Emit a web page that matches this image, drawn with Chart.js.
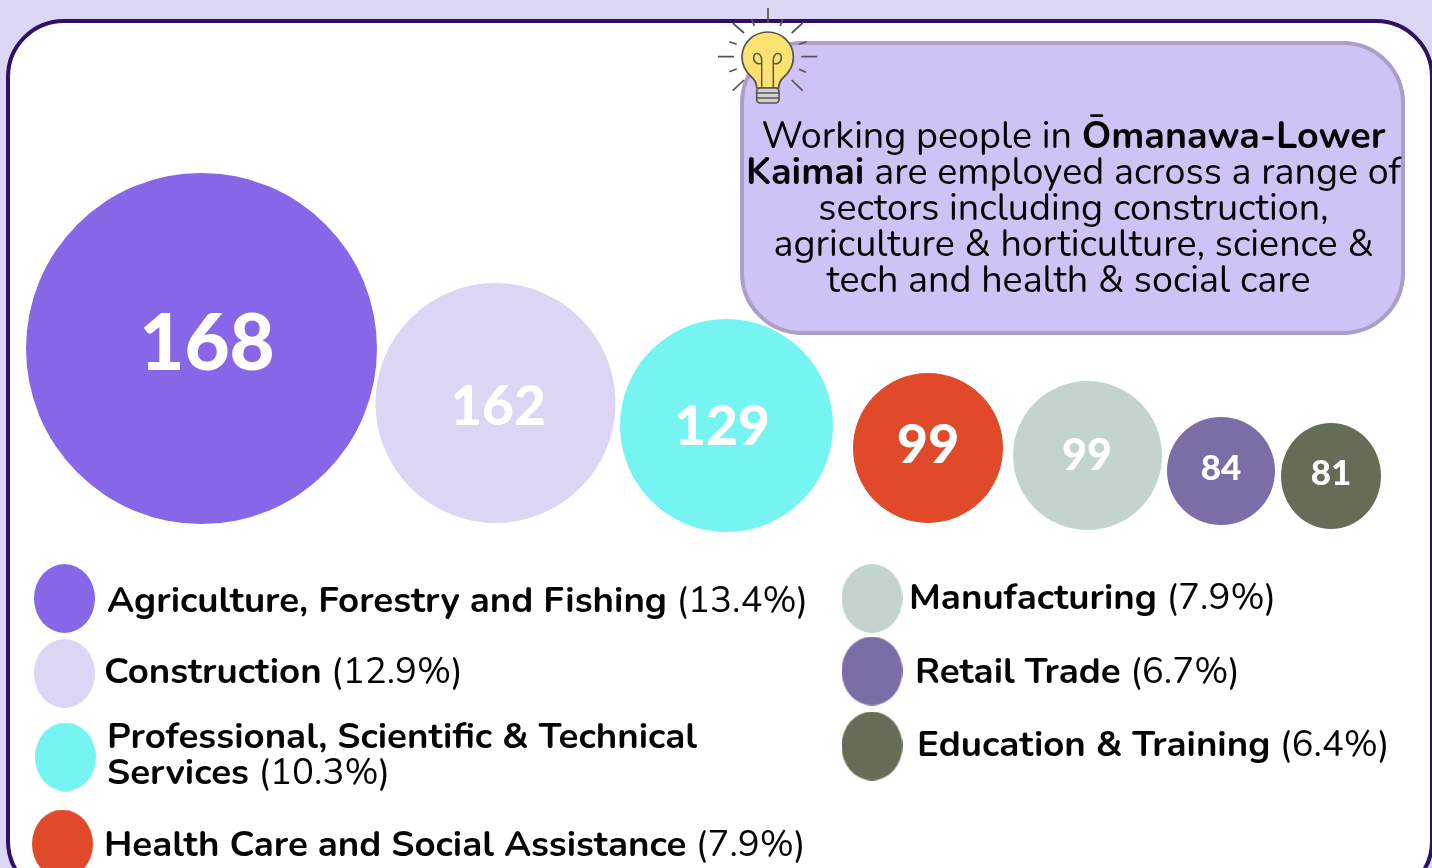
<!DOCTYPE html>
<html>
<head>
<meta charset="utf-8">
<script src="https://cdn.jsdelivr.net/npm/chart.js@4"></script>
<style>
  html, body { margin: 0; padding: 0; width: 1432px; height: 868px; overflow: hidden; background: #dcd6f5; }
  body { position: relative; font-family: 'Nunito', 'Open Sans', sans-serif; color: #050505; }
  .card { position: absolute; left: 6px; top: 19px; width: 1428px; height: 880px; box-sizing: border-box; background: #fff; border: 4px solid #2e1065; border-radius: 58px; }
  .note { position: absolute; left: 740px; top: 41px; width: 665px; height: 294px; box-sizing: border-box; background: #cfc2f5; border: 4px solid #ab9ec9; border-radius: 62px; }
  .note-text { position: absolute; left: 740px; top: 118px; width: 667px; text-align: center; font-size: 37.7px; line-height: 36px; }
  .note-text span { position: relative; left: -5px; }
  canvas { position: absolute; left: 0; top: 0; }
  .leg { position: absolute; font-size: 36.7px; line-height: 36px; white-space: nowrap; }
  .bulb { position: absolute; left: 710px; top: 0; }
</style>
</head>
<body>
<div class="card"></div>
<canvas id="bubbles" width="1432" height="868"></canvas>
<div class="note"></div>
<div class="note-text">Working people in <b>Ōmanawa-Lower<br>Kaimai</b> are employed across a range of<br>sectors including construction,<br>agriculture &amp; horticulture, science &amp;<br><span>tech and health &amp; social care</span></div>
<svg class="bulb" width="120" height="115" viewBox="710 0 120 115">
  <path d="M768 8V23M751.7 19l2.600 7M782.700 19l-2.400 7M732.700 23L744 33M802.700 23L791.700 33M718 56.700h16M801.300 56.700h16M729.300 41.700l7.400 2.600M806.700 41.700l-7.700 2.600M729.300 71.700l7.400-2.700M806 72.300l-7-3M732.700 90.700L744 80M802.700 90.700L791.700 80" stroke="#555" stroke-width="1.700" fill="none"/>
  <path d="M767.700 32c-14.200 0-25.700 11.200-25.700 25 0 9 4.500 15.500 9.500 20 3.500 3 5.200 6 5.200 11h22c0-5 1.700-8 5.200-11 5-4.500 9.500-11 9.500-20 0-13.800-11.500-25-25.700-25z" fill="#fde272" stroke="#555" stroke-width="1.700"/>
  <path d="M761.700 88V60c0-4-2.400-6.500-4.500-6.500-4 0-5 6.500-1 9.500 2 1 4 1 5.500 0M773.300 88V60c0-4 2.400-6.500 4.500-6.500 4 0 5 6.500 1 9.500-2 1-4 1-5.500 0" fill="none" stroke="#555" stroke-width="1.500"/>
  <rect x="756.700" y="88" width="22.300" height="15" rx="3.500" fill="#d0d0d0" stroke="#555" stroke-width="1.700"/>
  <path d="M757 93h22M757 98h22" stroke="#555" stroke-width="1.500"/>
</svg>
<div id="legend"></div>
<script>
const sectors = ['Agriculture, Forestry and Fishing', 'Construction', 'Professional, Scientific & Technical Services', 'Health Care and Social Assistance', 'Manufacturing', 'Retail Trade', 'Education & Training']
const counts = [168, 162, 129, 99, 99, 84, 81]
const shares = ['13.4%', '12.9%', '10.3%', '7.9%', '7.9%', '6.7%', '6.4%']
const colours = ['#8866e8', '#dcd6f4', '#75f4f2', '#e04a2b', '#c3d4cf', '#7d6da6', '#656d57']

// layout of the hand placed bubbles, in axis units
const bubbleX = [201.5, 495.5, 726.5, 928, 1087.5, 1221, 1331]
const bubbleY = [348.5, 403, 425.5, 448, 455.5, 471, 476]
const bubbleRadiusX = [175.5, 120, 106.5, 75, 74.5, 54, 50]
const bubbleRadiusY = [175.5, 120, 106.5, 75, 74.5, 54, 53]
const keyX = [64.5, 64.5, 65.5, 62.5, 872, 872, 872]
const keyY = [598.5, 673.5, 757, 844, 598.5, 671, 746]

const labelX = [207, 498, 722, 928, 1087, 1221, 1331]
const labelY = [345, 407.5, 427, 446, 456.5, 469, 474]
const labelSize = [78, 55, 55, 54, 43, 35, 35]

// legend text spots: left edge, top of first line
const legendLeft = [107, 104, 107, 104, 909, 915, 917]
const legendTop = [582, 652.5, 718, 825.5, 579, 652.5, 725.5]
const legendBreak = { 2: 'Professional, Scientific & Technical|Services' }

// bubble charts only do circles, so anything oval goes in as a sprite
const ovalSprite = (rx, ry, colour) => {
  const c = document.createElement('canvas')
  c.width = Math.ceil(rx * 2)
  c.height = Math.ceil(ry * 2)
  const g = c.getContext('2d')
  g.fillStyle = colour
  g.beginPath()
  g.ellipse(c.width / 2, c.height / 2, rx, ry, 0, 0, Math.PI * 2)
  g.fill()
  return c
}

const valueLabels = {
  id: 'valueLabels',
  afterDatasetsDraw(chart) {
    const { ctx, scales } = chart
    ctx.save()
    ctx.fillStyle = '#fff'
    ctx.textAlign = 'center'
    ctx.textBaseline = 'middle'
    counts.forEach((value, i) => {
      ctx.font = `900 ${labelSize[i]}px Lato, sans-serif`
      ctx.fillText(value, scales.x.getPixelForValue(labelX[i]), scales.y.getPixelForValue(labelY[i]))
    })
    ctx.restore()
  },
}

new Chart(document.getElementById('bubbles').getContext('2d'), {
  type: 'bubble',
  data: {
    datasets: [
      {
        label: 'Workers',
        data: counts.map((v, i) => ({ x: bubbleX[i], y: bubbleY[i], r: bubbleRadiusX[i], count: v })),
        backgroundColor: colours,
        borderWidth: 0,
        pointStyle: colours.map((c, i) => bubbleRadiusX[i] === bubbleRadiusY[i] ? 'circle' : ovalSprite(bubbleRadiusX[i], bubbleRadiusY[i], c)),
      },
      {
        label: 'Key',
        data: sectors.map((s, i) => ({ x: keyX[i], y: keyY[i], r: 30 })),
        backgroundColor: colours,
        borderWidth: 0,
        pointStyle: colours.map((c) => ovalSprite(30.5, 34.5, c)),
      },
    ],
  },
  options: {
    responsive: false,
    animation: false,
    events: [],
    layout: { padding: 0, autoPadding: false },
    clip: false,
    scales: {
      x: { type: 'linear', display: false, min: 0, max: 1432 },
      y: { type: 'linear', display: false, min: 0, max: 868, reverse: true },
    },
    plugins: { legend: { display: false }, tooltip: { enabled: false } },
  },
  plugins: [valueLabels],
})

// Legend text

const legendBox = document.getElementById('legend')
sectors.forEach((name, i) => {
  const el = document.createElement('div')
  el.className = 'leg'
  el.style.left = legendLeft[i] + 'px'
  el.style.top = legendTop[i] + 'px'
  const lines = (legendBreak[i] || name).split('|')
  lines.forEach((line, n) => {
    if (n > 0) el.appendChild(document.createElement('br'))
    const b = document.createElement('b')
    b.textContent = line
    el.appendChild(b)
  })
  el.appendChild(document.createTextNode(` (${shares[i]})`))
  legendBox.appendChild(el)
})
</script>
</body>
</html>
